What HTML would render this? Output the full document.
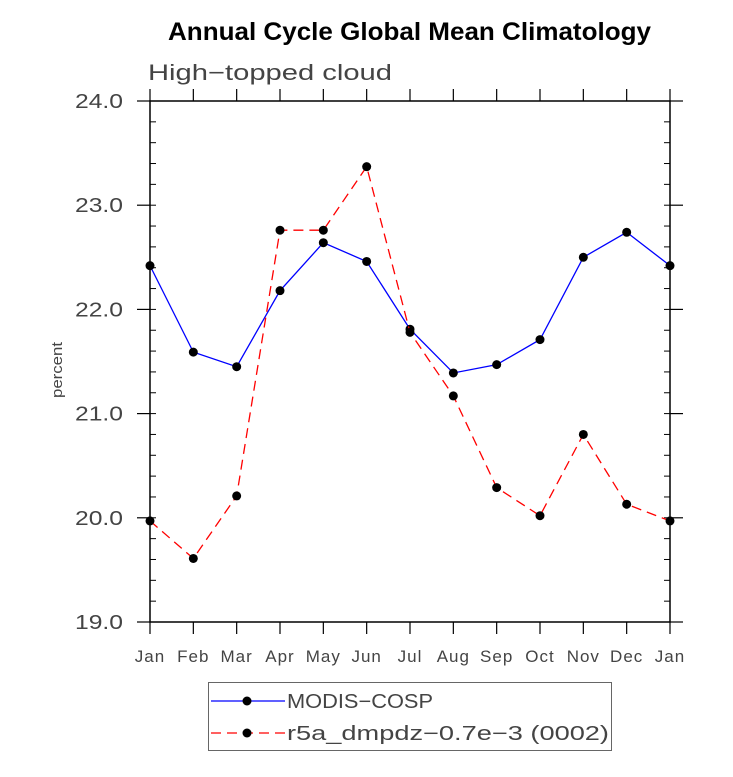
<!DOCTYPE html>
<html><head><meta charset="utf-8"><style>
body{margin:0;background:#fff;}
svg text{font-family:"Liberation Sans",sans-serif;}
</style></head><body>
<svg id="chart" width="733" height="772" xmlns="http://www.w3.org/2000/svg">
<text x="168" y="40" font-size="25" font-weight="bold" textLength="483" lengthAdjust="spacingAndGlyphs">Annual Cycle Global Mean Climatology</text>
<text x="148" y="80" font-size="22" fill="#444" textLength="244" lengthAdjust="spacingAndGlyphs">High−topped cloud</text>
<text transform="translate(62,370) rotate(-90)" text-anchor="middle" font-size="15" fill="#444" textLength="56" lengthAdjust="spacingAndGlyphs">percent</text>
<g id="axes"></g>
<g id="series"></g>
<g>
<rect x="208.5" y="682.5" width="403" height="68" fill="none" stroke="#666" stroke-width="1"/>
<g>
<line x1="211" y1="701" x2="285" y2="701" stroke="#00f" stroke-width="1.3"/>
<circle cx="247" cy="701" r="4.5" fill="#000"/>
<text x="287" y="708" font-size="20" fill="#444" textLength="146" lengthAdjust="spacingAndGlyphs">MODIS−COSP</text></g>
<g>
<line x1="211" y1="733" x2="285" y2="733" stroke="#f00" stroke-width="1.3" stroke-dasharray="10,6"/>
<circle cx="247" cy="733" r="4.5" fill="#000"/>
<text x="287" y="740" font-size="20" fill="#444" textLength="322" lengthAdjust="spacingAndGlyphs">r5a_dmpdz−0.7e−3 (0002)</text></g>
</g>
</svg>
<script>
const months = ["Jan","Feb","Mar","Apr","May","Jun","Jul","Aug","Sep","Oct","Nov","Dec","Jan"];
const modisValues = [22.42,21.59,21.45,22.18,22.64,22.46,21.81,21.39,21.47,21.71,22.50,22.74,22.42];
const r5aValues = [19.97,19.61,20.21,22.76,22.76,23.37,21.78,21.17,20.29,20.02,20.80,20.13,19.97];
const yTicks = [19,20,21,22,23,24];
const yTickLabels = ["19.0","20.0","21.0","22.0","23.0","24.0"];

const X0=150,X1=670,Y0=622,Y1=101,YMIN=19,YMAX=24;
const xs=i=>X0+(X1-X0)*i/(months.length-1);
const ys=v=>Y0-(v-YMIN)/(YMAX-YMIN)*(Y0-Y1);
const NS="http://www.w3.org/2000/svg";
function mk(t,a,p){const e=document.createElementNS(NS,t);for(const k in a)e.setAttribute(k,a[k]);p.appendChild(e);return e;}
const ax=document.getElementById('axes');
const frame=mk('rect',{x:X0,y:Y1,width:X1-X0,height:Y0-Y1,fill:'none',stroke:'#000','stroke-width':1.5},ax);


months.forEach((m,i)=>{
  const x=xs(i);
  mk('line',{x1:x,y1:Y0,x2:x,y2:Y0+12,stroke:'#000','stroke-width':1.2},ax);
  mk('line',{x1:x,y1:Y1,x2:x,y2:Y1-12,stroke:'#000','stroke-width':1.2},ax);
  const t=mk('text',{x:x,y:Y0+40,'text-anchor':'middle','font-size':17,fill:'#444','letter-spacing':1},ax);
  t.textContent=m;
  
  
});
for(let v=YMIN;v<=YMAX+1e-6;v+=0.2){
  const y=ys(v);
  mk('line',{x1:X0,y1:y,x2:X0+6,y2:y,stroke:'#000','stroke-width':1},ax);
  mk('line',{x1:X1,y1:y,x2:X1-6,y2:y,stroke:'#000','stroke-width':1},ax);
}
yTicks.forEach((v,i)=>{
  const y=ys(v);
  mk('line',{x1:X0-13,y1:y,x2:X0,y2:y,stroke:'#000','stroke-width':1.2},ax);
  mk('line',{x1:X1,y1:y,x2:X1+13,y2:y,stroke:'#000','stroke-width':1.2},ax);
  const t=mk('text',{x:X0-75,y:y+7,'font-size':20,fill:'#444',textLength:48,lengthAdjust:'spacingAndGlyphs'},ax);
  t.textContent=yTickLabels[i];
  
  
});
const sg=document.getElementById('series');
function series(vals,color,dash,name){
  const g=mk('g',{},sg);
  
  
  const a={points:vals.map((v,i)=>xs(i)+','+ys(v)).join(' '),fill:'none',stroke:color,'stroke-width':1.3};
  if(dash)a['stroke-dasharray']=dash;
  const l=mk('polyline',a,g);
  
  
  vals.forEach((v,i)=>{
    const c=mk('circle',{cx:xs(i),cy:ys(v),r:4.5,fill:'#000'},g);
    
    
  });
}
series(modisValues,'#00f',null,'modis-series');
series(r5aValues,'#f00','10,6','r5a-series');
</script>
</body></html>
